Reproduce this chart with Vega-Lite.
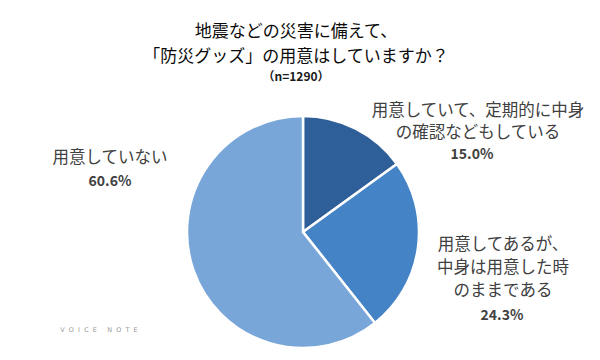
{
  "$schema": "https://vega.github.io/schema/vega-lite/v6.json",
  "width": 232,
  "height": 232,
  "autosize": "none",
  "padding": {"left": 187, "top": 116, "right": 181, "bottom": 12},
  "background": "white",
  "config": {"view": {"stroke": null}, "font": "Noto Sans CJK JP"},
  "title": {
    "text": ["地震などの災害に備えて、", "「防災グッズ」の用意はしていますか？"],
    "subtitle": "（n=1290）",
    "anchor": "middle",
    "dx": -7,
    "fontSize": 17,
    "fontWeight": "normal",
    "color": "#0a0a0a",
    "lineHeight": 25,
    "subtitleFontSize": 12,
    "subtitleFontWeight": "bold",
    "subtitleColor": "#1a1a1a",
    "subtitlePadding": 6,
    "offset": 19
  },
  "data": {
    "values": [
      {"category": "用意していて、定期的に中身の確認などもしている", "label": "用意していて、定期的に中身\nの確認などもしている", "value": 0.150, "order": 1},
      {"category": "用意してあるが、中身は用意した時のままである", "label": "用意してあるが、\n中身は用意した時\nのままである", "value": 0.243, "order": 2},
      {"category": "用意していない", "label": "用意していない", "value": 0.606, "order": 3}
    ]
  },
  "layer": [
    {
      "mark": {"type": "arc", "stroke": "white", "strokeWidth": 2.5},
      "encoding": {
        "theta": {"field": "value", "type": "quantitative", "stack": true},
        "order": {"field": "order", "type": "quantitative"},
        "color": {
          "field": "category",
          "type": "nominal",
          "legend": null,
          "scale": {
            "domain": ["用意していて、定期的に中身の確認などもしている", "用意してあるが、中身は用意した時のままである", "用意していない"],
            "range": ["#2F5F98", "#4483C6", "#79A6D8"]
          }
        }
      }
    },
    {
      "transform": [{"filter": "datum.order === 1"}],
      "mark": {"type": "text", "lineBreak": "\n", "fontSize": 16.5, "lineHeight": 22, "color": "#404040", "align": "center", "baseline": "middle", "dx": 175, "dy": -121},
      "encoding": {"text": {"field": "label", "type": "nominal"}}
    },
    {
      "transform": [{"filter": "datum.order === 1"}],
      "mark": {"type": "text", "fontSize": 14, "fontWeight": "bold", "color": "#404040", "align": "center", "baseline": "middle", "dx": 169, "dy": -77},
      "encoding": {"text": {"field": "value", "type": "quantitative", "format": ".1%"}}
    },
    {
      "transform": [{"filter": "datum.order === 2"}],
      "mark": {"type": "text", "lineBreak": "\n", "fontSize": 16.5, "lineHeight": 23, "color": "#404040", "align": "center", "baseline": "middle", "dx": 200, "dy": 13},
      "encoding": {"text": {"field": "label", "type": "nominal"}}
    },
    {
      "transform": [{"filter": "datum.order === 2"}],
      "mark": {"type": "text", "fontSize": 14, "fontWeight": "bold", "color": "#404040", "align": "center", "baseline": "middle", "dx": 199, "dy": 84},
      "encoding": {"text": {"field": "value", "type": "quantitative", "format": ".1%"}}
    },
    {
      "transform": [{"filter": "datum.order === 3"}],
      "mark": {"type": "text", "fontSize": 16.5, "color": "#404040", "align": "center", "baseline": "middle", "dx": -193, "dy": -74},
      "encoding": {"text": {"field": "label", "type": "nominal"}}
    },
    {
      "transform": [{"filter": "datum.order === 3"}],
      "mark": {"type": "text", "fontSize": 14, "fontWeight": "bold", "color": "#404040", "align": "center", "baseline": "middle", "dx": -193, "dy": -50},
      "encoding": {"text": {"field": "value", "type": "quantitative", "format": ".1%"}}
    },
    {
      "data": {"values": [{"brand": "V\u00a0\u00a0O\u00a0\u00a0I\u00a0\u00a0C\u00a0\u00a0E\u00a0\u00a0\u00a0\u00a0\u00a0N\u00a0\u00a0O\u00a0\u00a0T\u00a0\u00a0E"}]},
      "mark": {"type": "text", "fontSize": 6.5, "font": "DejaVu Sans", "color": "#9a9a9a", "align": "center", "baseline": "middle", "dx": -204, "dy": 98},
      "encoding": {"text": {"field": "brand", "type": "nominal"}}
    }
  ]
}
